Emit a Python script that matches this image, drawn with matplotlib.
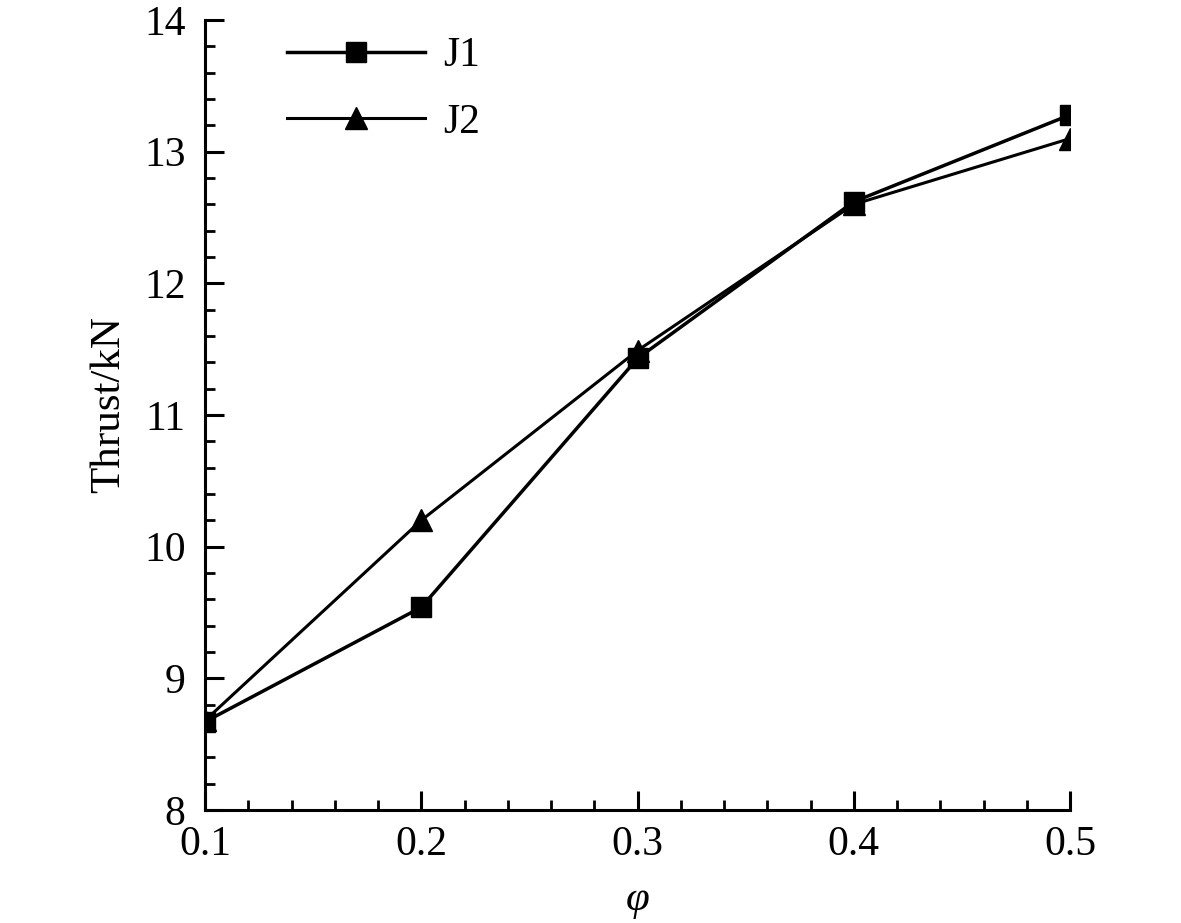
import matplotlib
matplotlib.use('Agg')
import matplotlib.pyplot as plt
from matplotlib.ticker import MultipleLocator

# data
phi = [0.1, 0.2, 0.3, 0.4, 0.5]
thrust_j1 = [8.67, 9.54, 11.43, 12.62, 13.28]
thrust_j2 = [8.68, 10.20, 11.49, 12.60, 13.10]

plt.rcParams['font.family'] = ['Liberation Serif', 'DejaVu Serif']

fig = plt.figure(figsize=(11.81, 9.23), dpi=100)
ax = fig.add_axes([0.1736, 0.1224, 0.7325, 0.8559])

ax.plot(phi, thrust_j1, color='black', linewidth=2.5, marker='s',
        markersize=15, label='J1')
ax.plot(phi, thrust_j2, color='black', linewidth=2.2, marker='^',
        markersize=16, label='J2')

ax.set_xlim(0.1, 0.5)
ax.set_ylim(8, 14)
ax.xaxis.set_major_locator(MultipleLocator(0.1))
ax.xaxis.set_minor_locator(MultipleLocator(0.02))
ax.yaxis.set_major_locator(MultipleLocator(1))
ax.yaxis.set_minor_locator(MultipleLocator(0.2))

ax.spines['top'].set_visible(False)
ax.spines['right'].set_visible(False)
ax.spines['left'].set_linewidth(2.2)
ax.spines['bottom'].set_linewidth(2.2)

ax.tick_params(which='major', direction='in', length=14, width=2.2,
               labelsize=30)
ax.tick_params(axis='x', which='major', pad=11)
ax.tick_params(axis='y', which='major', pad=14)
ax.tick_params(which='minor', direction='in', length=7, width=2.0)

ax.set_xlabel('φ', fontsize=31, fontstyle='italic', labelpad=12)
ax.set_ylabel('Thrust/kN', fontsize=31, labelpad=11)
ax.yaxis.label.set_y(0.513)

ax.legend(loc='upper left', frameon=False, fontsize=30, handlelength=3.3,
          labelspacing=0.68, handletextpad=0.45, borderaxespad=0.0,
          bbox_to_anchor=(0.076, 1.0))

fig.savefig('out.png', dpi=100)
